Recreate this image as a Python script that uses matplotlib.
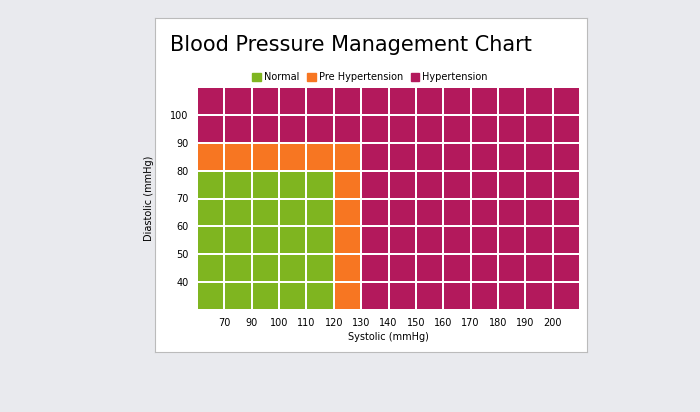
import matplotlib
matplotlib.use("Agg")
import matplotlib.pyplot as plt
import numpy as np
from matplotlib.patches import Rectangle, Patch
from matplotlib.colors import ListedColormap

x_labels = [70, 90, 100, 110, 120, 130, 140, 150, 160, 170, 180, 190, 200]
y_labels = [100, 90, 80, 70, 60, 50, 40]
n_cols = 14
n_rows = 8
normal_cols = 5      # columns below systolic 120
pre_col = 5          # column 120-130
normal_rows_from_top = 3  # rows above 80 are not normal
pre_row = 2
categories = ["Normal", "Pre Hypertension", "Hypertension"]
colors = ["#7fb520", "#f77622", "#b3195c"]

grid = np.full((n_rows, n_cols), 2)
for r in range(n_rows):
    for c in range(n_cols):
        if r >= normal_rows_from_top and c < normal_cols:
            grid[r, c] = 0
        elif (r == pre_row and c <= pre_col) or (c == pre_col and r >= pre_row):
            grid[r, c] = 1

fig = plt.figure(figsize=(7, 4.12), dpi=100, facecolor="#e9eaee")
bg = fig.add_axes([155/700, 1-352/412, 432/700, 334/412], zorder=-5)
bg.set_xticks([]); bg.set_yticks([])
bg.set_facecolor("white")
for s in bg.spines.values():
    s.set_color("#bbbbbb")
fig.text(170/700, 1-45/412, "Blood Pressure Management Chart", fontsize=15, va="center", ha="left")

ax = fig.add_axes([197/700, 1-310/412, 383/700, 223/412], zorder=1)
ax.pcolormesh(np.arange(n_cols+1), np.arange(n_rows+1), grid[::-1], cmap=ListedColormap(colors),
              vmin=0, vmax=2, edgecolors="white", linewidth=1.2)
ax.set_xlim(0, n_cols); ax.set_ylim(0, n_rows)
ax.set_xticks(np.arange(1, n_cols)); ax.set_xticklabels(x_labels, fontsize=7)
ax.set_yticks(np.arange(n_rows-1, 0, -1)); ax.set_yticklabels(y_labels, fontsize=7)
ax.tick_params(length=0, pad=6)
for s in ax.spines.values():
    s.set_visible(False)
ax.set_xlabel("Systolic (mmHg)", fontsize=7, labelpad=3)
ax.set_ylabel("Diastolic (mmHg)", fontsize=7, labelpad=12)

handles = [Patch(color=c, label=l) for c, l in zip(colors, categories)]
fig.legend(handles=handles, loc="center", bbox_to_anchor=(370/700, 1-77/412), ncol=3, fontsize=7,
           frameon=False, handlelength=0.9, handleheight=0.9, columnspacing=0.8, handletextpad=0.3)
fig.savefig("out.png", dpi=100, facecolor=fig.get_facecolor())
